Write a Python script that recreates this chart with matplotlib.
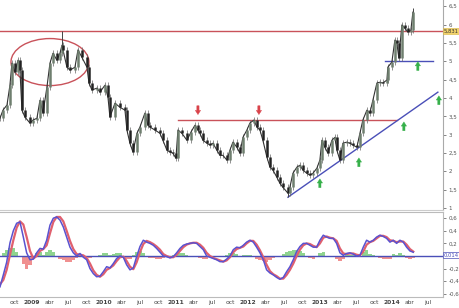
import matplotlib
matplotlib.use('Agg')
import matplotlib.pyplot as plt
from matplotlib.patches import Ellipse
import numpy as np

# precio (fechas en años decimales, cierre aproximado)
price_t = [2008.556, 2008.597, 2008.653, 2008.694, 2008.722, 2008.764, 2008.806, 2008.833,
           2008.861, 2008.903, 2008.972, 2009.014, 2009.069, 2009.111, 2009.153, 2009.208,
           2009.250, 2009.292, 2009.347, 2009.389, 2009.417, 2009.431, 2009.486, 2009.528,
           2009.597, 2009.639, 2009.694, 2009.764, 2009.792, 2009.833, 2009.903, 2009.944,
           2010.014, 2010.056, 2010.083, 2010.153, 2010.222, 2010.292, 2010.319, 2010.361,
           2010.403, 2010.458, 2010.500, 2010.569, 2010.611, 2010.639, 2010.708, 2010.778,
           2010.819, 2010.875, 2010.917, 2010.958, 2011.000, 2011.028, 2011.083, 2011.153,
           2011.208, 2011.264, 2011.306, 2011.333, 2011.375, 2011.431, 2011.472, 2011.514,
           2011.569, 2011.611, 2011.653, 2011.708, 2011.750, 2011.792, 2011.847, 2011.889,
           2011.931, 2011.986, 2012.028, 2012.083, 2012.125, 2012.167, 2012.208, 2012.264,
           2012.306, 2012.347, 2012.403, 2012.444, 2012.486, 2012.556, 2012.583, 2012.625,
           2012.681, 2012.722, 2012.764, 2012.819, 2012.861, 2012.903, 2012.958, 2013.000,
           2013.028, 2013.069, 2013.111, 2013.167, 2013.208, 2013.236, 2013.278, 2013.319,
           2013.375, 2013.417, 2013.458, 2013.514, 2013.556, 2013.597, 2013.653, 2013.694,
           2013.736, 2013.792, 2013.833, 2013.875, 2013.931, 2013.944, 2014.000, 2014.042,
           2014.069, 2014.097, 2014.139, 2014.181, 2014.222, 2014.264, 2014.292]
price_c = [3.45, 3.67, 3.81, 4.35, 4.95, 4.71, 5.03, 4.76,
           3.67, 3.48, 3.32, 3.40, 3.45, 3.94, 3.59, 4.30,
           4.95, 5.22, 5.03, 5.22, 5.44, 5.31, 4.84, 4.76,
           4.84, 5.31, 5.11, 4.84, 4.41, 4.22, 4.27, 4.16,
           4.35, 4.02, 3.48, 3.86, 3.75, 3.67, 3.13, 2.77,
           2.53, 3.04, 3.21, 3.59, 3.26, 3.21, 3.13, 3.04,
           2.85, 2.58, 2.53, 2.50, 2.36, 3.13, 3.04, 2.85,
           3.07, 3.26, 3.13, 3.04, 2.85, 2.77, 2.72, 2.77,
           2.58, 2.44, 2.44, 2.31, 2.58, 2.80, 2.66, 2.50,
           2.93, 3.13, 3.32, 3.40, 3.21, 3.13, 2.85, 2.39,
           2.12, 2.04, 1.84, 1.68, 1.57, 1.41, 1.57, 1.95,
           2.12, 2.17, 2.04, 1.95, 1.90, 1.95, 2.09, 2.31,
           2.85, 2.66, 2.50, 2.85, 2.93, 2.58, 2.31, 2.77,
           2.80, 2.77, 2.72, 2.66, 3.04, 3.40, 3.67, 3.59,
           3.94, 4.41, 4.43, 4.41, 4.49, 4.84, 4.98, 5.58,
           5.50, 5.09, 5.99, 5.90, 5.80, 5.85, 6.34]
# mechas destacadas
wick_t = [2009.417, 2012.556, 2014.292]
wick_p = [5.83, 1.30, 6.45]

# oscilador (paso fijo desde el inicio)
osc_start = 2008.556
osc_step = 0.0463
macd = [-0.49, -0.30, -0.10, 0.21, 0.40, 0.52, 0.54, 0.30, 0.05, -0.06,
        -0.05, 0.05, 0.12, 0.11, 0.25, 0.49, 0.60, 0.62, 0.57, 0.46,
        0.30, 0.14, 0.05, 0.00, 0.04, -0.02, -0.06, -0.20, -0.28, -0.33,
        -0.32, -0.25, -0.17, -0.19, -0.12, -0.04, 0.00, -0.02, -0.14, -0.22,
        -0.19, -0.01, 0.15, 0.25, 0.22, 0.20, 0.17, 0.12, 0.06, 0.00,
        -0.01, -0.03, -0.01, 0.05, 0.12, 0.17, 0.19, 0.20, 0.21, 0.20,
        0.15, 0.10, 0.00, -0.02, -0.04, -0.06, -0.09, -0.09, -0.05, 0.00,
        0.10, 0.14, 0.13, 0.17, 0.22, 0.25, 0.22, 0.14, 0.05, -0.06,
        -0.22, -0.27, -0.30, -0.34, -0.37, -0.34, -0.25, -0.17, -0.06, 0.07,
        0.15, 0.20, 0.20, 0.17, 0.14, 0.14, 0.25, 0.33, 0.30, 0.28,
        0.28, 0.20, 0.05, 0.01, 0.04, 0.05, 0.03, 0.00, 0.01, 0.14,
        0.25, 0.22, 0.25, 0.30, 0.33, 0.31, 0.28, 0.22, 0.25, 0.20,
        0.25, 0.22, 0.14, 0.08, 0.06]
signal = [-0.45, -0.38, -0.22, 0.02, 0.25, 0.45, 0.55, 0.50, 0.30, 0.08,
          -0.04, 0.00, 0.08, 0.11, 0.17, 0.36, 0.54, 0.62, 0.62, 0.55,
          0.40, 0.24, 0.11, 0.03, 0.02, 0.01, -0.03, -0.12, -0.23, -0.30,
          -0.33, -0.29, -0.22, -0.19, -0.15, -0.08, -0.02, -0.01, -0.08, -0.17,
          -0.21, -0.10, 0.06, 0.19, 0.24, 0.22, 0.19, 0.15, 0.10, 0.03,
          0.00, -0.02, -0.02, 0.02, 0.08, 0.14, 0.18, 0.20, 0.21, 0.21,
          0.18, 0.13, 0.05, 0.00, -0.03, -0.05, -0.07, -0.09, -0.07, -0.02,
          0.06, 0.11, 0.13, 0.15, 0.20, 0.24, 0.24, 0.18, 0.09, -0.02,
          -0.14, -0.24, -0.29, -0.32, -0.36, -0.36, -0.30, -0.22, -0.12, 0.00,
          0.10, 0.17, 0.20, 0.19, 0.16, 0.14, 0.20, 0.29, 0.31, 0.29,
          0.28, 0.24, 0.12, 0.04, 0.03, 0.04, 0.04, 0.02, 0.01, 0.07,
          0.18, 0.22, 0.24, 0.28, 0.32, 0.32, 0.30, 0.25, 0.24, 0.22,
          0.23, 0.23, 0.18, 0.11, 0.07]
hist = [0.00, 0.05, 0.10, 0.13, 0.12, 0.06, -0.02, -0.12, -0.20, -0.14,
        -0.04, 0.04, 0.06, 0.02, 0.07, 0.10, 0.06, 0.00, -0.04, -0.07,
        -0.10, -0.09, -0.06, -0.03, 0.03, 0.01, -0.02, -0.03, -0.02, -0.01,
        0.02, 0.04, 0.05, 0.02, 0.03, 0.05, 0.04, -0.01, -0.05, -0.05,
        0.02, 0.07, 0.08, 0.05, -0.02, -0.03, -0.03, -0.04, -0.04, -0.03,
        -0.01, -0.01, 0.01, 0.03, 0.05, 0.04, 0.02, 0.00, 0.00, -0.01,
        -0.03, -0.04, -0.04, -0.02, -0.01, -0.01, -0.01, 0.00, 0.02, 0.04,
        0.05, 0.03, 0.00, 0.02, 0.02, 0.01, -0.02, -0.05, -0.07, -0.08,
        -0.10, -0.07, -0.03, -0.02, 0.00, 0.03, 0.06, 0.08, 0.10, 0.10,
        0.08, 0.05, 0.00, -0.03, -0.04, -0.02, 0.05, 0.07, 0.00, -0.01,
        -0.01, -0.04, -0.08, -0.04, 0.01, 0.02, 0.01, -0.01, 0.00, 0.06,
        0.10, 0.03, 0.01, -0.01, -0.03, -0.05, -0.05, -0.04, 0.03, 0.02,
        0.05, 0.02, -0.03, -0.04, -0.03]

# niveles y señales
res_top = 5.831
res_mid = 3.40
res_mid_span = [2011.028, 2014.069]
sup_hi = 5.02
sup_hi_span = [2013.903, 2014.569]
trend_t = [2012.556, 2014.639]
trend_p = [1.30, 4.16]
down_t = [2011.306, 2012.153]
down_p = [3.67, 3.67]
up_t = [2013.0, 2013.542, 2014.167, 2014.361, 2014.653]
up_p = [1.68, 2.25, 3.23, 4.87, 3.94]

xticks = [2008.75 + 0.25 * i for i in range(24)]
xlabels = []
for v in xticks:
    q = int(round((v % 1) * 4))
    xlabels.append([str(int(round(v))), 'abr', 'jul', 'oct'][q])

RED = '#c9525a'
BLUE = '#4a4fb8'
XLIM = (2008.556, 2014.71)


def comma(v, d=1):
    s = ('%.' + str(d) + 'f') % v
    s = s.rstrip('0').rstrip('.') if '.' in s else s
    return s.replace('.', ',')


def arrow(ax, t, p, up, color, h=0.24):
    if up:
        tail, tip = p - h / 2, p + h / 2
    else:
        tail, tip = p + h / 2, p - h / 2
    ax.annotate('', xy=(t, tip), xytext=(t, tail),
                arrowprops=dict(arrowstyle='simple,head_length=0.75,head_width=0.95,tail_width=0.4',
                                mutation_scale=4, shrinkA=0, shrinkB=0,
                                fc=color, ec=color, lw=0.3))


fig = plt.figure(figsize=(4.6, 3.08), dpi=100)
ax = fig.add_axes([0, 0.318, 0.963, 0.682])
ax2 = fig.add_axes([0, 0.036, 0.963, 0.276])

# velas: apertura = cierre anterior
opens = [price_c[0]] + price_c[:-1]
for t, o, c in zip(price_t, opens, price_c):
    lo, hi = min(o, c), max(o, c)
    col = '#222222' if c < o else '#6f7f6f'
    ax.vlines(t, lo - 0.08, hi + 0.08, color='#666666', lw=0.5, zorder=2)
    ax.vlines(t, lo, hi, color=col, lw=1.8, zorder=3)
ax.plot(price_t, price_c, color='#333333', lw=0.8, zorder=2)
for t, p in zip(wick_t, wick_p):
    i = int(np.argmin([abs(t - x) for x in price_t]))
    ax.vlines(t, min(p, price_c[i]), max(p, price_c[i]), color='#444444', lw=0.7, zorder=2)

ax.axhline(res_top, color=RED, lw=1, zorder=1)
ax.plot(res_mid_span, [res_mid, res_mid], color=RED, lw=1, zorder=1)
ax.plot(sup_hi_span, [sup_hi, sup_hi], color=BLUE, lw=1, zorder=1)
ax.plot(trend_t, trend_p, color=BLUE, lw=1, zorder=1)
ax.add_patch(Ellipse((2009.25, 4.98), 1.083, 1.28, fill=False, ec=RED, lw=1))
for t, p in zip(down_t, down_p):
    arrow(ax, t, p, False, '#d9434a')
for t, p in zip(up_t, up_p):
    arrow(ax, t, p, True, '#36b04a')

ax.set_xlim(*XLIM)
ax.set_ylim(0.95, 6.67)
pticks = [1, 1.5, 2, 2.5, 3, 3.5, 4, 4.5, 5, 5.5, 6, 6.5]
ax.yaxis.tick_right()
ax.set_yticks(pticks)
ax.set_yticklabels([comma(v) for v in pticks])
ax.set_xticks([])
ax.tick_params(axis='y', labelsize=4, length=2, width=0.5, colors='#555555', pad=2)
for s in ['top', 'left']:
    ax.spines[s].set_visible(False)
ax.spines['right'].set_color('#aaaaaa')
ax.spines['bottom'].set_color('#cccccc')
ax.text(1.001, res_top, comma(res_top, 3), transform=ax.get_yaxis_transform(),
        fontsize=3.8, va='center', ha='left', color='#333333',
        bbox=dict(boxstyle='square,pad=0.12', fc='#f3d36b', ec='#d9b640', lw=0.4))

# oscilador
osc_t = osc_start + osc_step * np.arange(len(macd))
hcol = ['#8fd48f' if v >= 0 else '#f09090' for v in hist]
ax2.bar(osc_t, hist, width=osc_step, color=hcol, zorder=1)
ax2.axhline(0.0, color=BLUE, lw=1, zorder=2)
ax2.plot(osc_t, signal, color='#e0606e', lw=1.6, zorder=3)
ax2.plot(osc_t, macd, color='#5a52d0', lw=1.1, zorder=4)
ax2.set_xlim(*XLIM)
ax2.set_ylim(-0.65, 0.70)
oticks = [-0.6, -0.4, -0.2, 0.2, 0.4, 0.6]
ax2.yaxis.tick_right()
ax2.set_yticks(oticks)
ax2.set_yticklabels([comma(v) for v in oticks])
ax2.tick_params(axis='y', labelsize=4, length=2, width=0.5, colors='#555555', pad=2)
ax2.set_xticks(xticks)
ax2.set_xticklabels(xlabels)
ax2.tick_params(axis='x', labelsize=4.3, length=0, colors='#444444', pad=2)
for lab in ax2.get_xticklabels():
    if lab.get_text().isdigit():
        lab.set_fontweight('bold')
ax2.spines['left'].set_visible(False)
for s in ['top', 'right', 'bottom']:
    ax2.spines[s].set_color('#bbbbbb')
ax2.text(1.001, 0.014, '0,014', transform=ax2.get_yaxis_transform(),
         fontsize=3.8, va='center', ha='left', color=BLUE,
         bbox=dict(boxstyle='square,pad=0.12', fc='white', ec=BLUE, lw=0.5))

plt.savefig('out.png', dpi=100)
